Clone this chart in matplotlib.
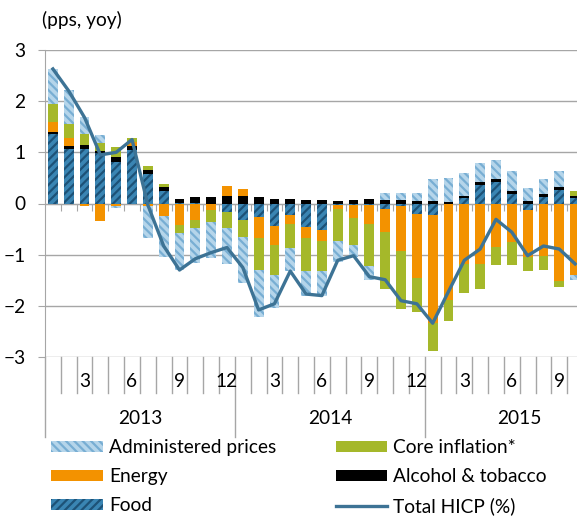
import numpy as np
import matplotlib
matplotlib.use('Agg')
import matplotlib.pyplot as plt
import matplotlib.transforms as mtransforms
from matplotlib.patches import Patch
from matplotlib.lines import Line2D

plt.rcParams['font.family'] = ['Lato', 'DejaVu Sans']
plt.rcParams['hatch.linewidth'] = 1.6

# Jan 2013 .. Oct 2015
years = ['2013', '2014', '2015']
month_labels = (['', '', '3', '', '', '6', '', '', '9', '', '', '12'] * 3)[:34]

# contributions (pps, yoy)
food = [1.36, 1.06, 1.06, 0.98, 0.82, 1.05, 0.58, 0.25, 0.01, 0.01, 0.00, -0.17,
        -0.32, -0.27, -0.44, -0.23, -0.46, -0.51, -0.02, -0.03, -0.03, -0.10, -0.05, -0.20,
        -0.23, -0.01, 0.11, 0.37, 0.42, 0.18, -0.12, 0.12, 0.27, 0.10]
alcohol = [0.04, 0.06, 0.08, 0.04, 0.08, 0.07, 0.08, 0.08, 0.07, 0.11, 0.12, 0.14,
           0.14, 0.12, 0.09, 0.08, 0.07, 0.07, 0.05, 0.07, 0.08, 0.07, 0.06, 0.04,
           0.04, 0.03, 0.03, 0.05, 0.05, 0.07, 0.05, 0.06, 0.06, 0.05]
energy = [0.20, 0.16, -0.05, -0.35, -0.05, 0.08, -0.05, -0.25, -0.42, -0.33, -0.13, 0.20,
          0.15, -0.40, -0.37, -0.17, -0.22, -0.23, -0.08, -0.26, -0.38, -0.45, -0.87, -1.25,
          -2.11, -1.87, -1.18, -1.19, -0.85, -0.75, -0.93, -1.03, -1.52, -1.39]
core = [0.35, 0.28, 0.22, 0.16, 0.20, 0.08, 0.07, 0.06, -0.16, -0.15, -0.23, -0.31,
        -0.33, -0.62, -0.58, -0.47, -0.63, -0.57, -0.64, -0.53, -0.81, -1.12, -1.15, -0.67,
        -0.55, -0.42, -0.57, -0.49, -0.35, -0.46, -0.27, -0.27, -0.12, 0.10]
admin = [0.68, 0.66, 0.34, 0.15, -0.03, -0.01, -0.62, -0.79, -0.72, -0.69, -0.71, -0.70,
         -0.91, -0.93, -0.65, -0.44, -0.49, -0.50, -0.41, -0.22, -0.27, 0.13, 0.15, 0.16,
         0.43, 0.47, 0.46, 0.37, 0.38, 0.39, 0.26, 0.29, 0.30, -0.10]
total = [2.63, 2.20, 1.68, 0.95, 1.00, 1.25, -0.03, -0.83, -1.30, -1.08, -0.96, -0.86,
         -1.25, -2.08, -1.96, -1.32, -1.77, -1.80, -1.11, -1.02, -1.43, -1.49, -1.90, -1.96,
         -2.34, -1.72, -1.11, -0.89, -0.31, -0.56, -1.02, -0.83, -0.89, -1.18]

W, H = 577, 517
FS = 13.8
fig = plt.figure(figsize=(W / 100, H / 100), dpi=100)
ax = fig.add_axes([45 / W, 1 - 357 / H, 538 / W, 307 / H])

x = np.arange(len(total))
series = [
    (food, '#3A85B3', '////', '#1D5277'),
    (alcohol, '#000000', None, '#000000'),
    (energy, '#F39200', None, '#F39200'),
    (core, '#A5B82A', None, '#A5B82A'),
    (admin, '#B5D5EA', '\\\\\\\\', '#78AED3'),
]
pos = np.zeros(len(x))
neg = np.zeros(len(x))
for vals, col, hatch, hcol in series:
    v = np.array(vals)
    bottom = np.where(v >= 0, pos, neg)
    ax.bar(x, v, 0.62, bottom=bottom, color=col, hatch=hatch, edgecolor=hcol,
           linewidth=0, zorder=3)
    pos += np.clip(v, 0, None)
    neg += np.clip(v, None, 0)

ax.plot(x, total, color='#3D7395', lw=2.4, zorder=5)

grey = '#A6A6A6'
ax.set_xlim(-0.5, 33.5)
ax.set_ylim(-3, 3)
ax.set_yticks(range(-3, 4))
ax.yaxis.grid(True, color=grey, lw=1.0, zorder=0)
ax.tick_params(axis='y', length=5, color=grey, pad=9, labelsize=FS)
for s in ['top', 'right']:
    ax.spines[s].set_visible(False)
ax.spines['left'].set_color(grey)
ax.spines['bottom'].set_position(('data', 0))
ax.spines['bottom'].set_color(grey)
ax.set_xticks(np.arange(0.5, 33, 1))
ax.set_xticklabels([])
ax.tick_params(axis='x', length=5, color=grey, direction='out')

# category axis below the plot
tr = mtransforms.blended_transform_factory(ax.transData, ax.transAxes)
for b in np.arange(0.5, 33, 1):
    if b in (11.5, 23.5):
        continue
    ax.plot([b, b], [0, -0.117], color=grey, lw=1.0, transform=tr, clip_on=False)
for b in (-0.5, 11.5, 23.5):
    ax.plot([b, b], [0, -0.26], color=grey, lw=1.0, transform=tr, clip_on=False)
for i, lab in enumerate(month_labels):
    if lab:
        ax.text(i, -0.081, lab, transform=tr, ha='center', va='center', fontsize=FS)
for j, yr in enumerate(years):
    ax.text(12 * j + 5.5, -0.199, yr, transform=tr, ha='center', va='center', fontsize=FS)

fig.text(42 / W, 1 - 20 / H, '(pps, yoy)', ha='left', va='center', fontsize=FS)

handles = [
    Patch(facecolor='#B5D5EA', edgecolor='#78AED3', hatch='\\\\\\\\', linewidth=0),
    Patch(facecolor='#F39200', linewidth=0),
    Patch(facecolor='#3A85B3', edgecolor='#1D5277', hatch='////', linewidth=0),
    Patch(facecolor='#A5B82A', linewidth=0),
    Patch(facecolor='#000000', linewidth=0),
    Line2D([], [], color='#3D7395', lw=2.4),
]
labels = ['Administered prices', 'Energy', 'Food',
          'Core inflation*', 'Alcohol & tobacco', 'Total HICP (%)']
fig.legend(handles, labels, ncol=2, loc='upper left', frameon=False,
           bbox_to_anchor=(36 / W, 1 - 424 / H), fontsize=FS,
           handlelength=2.7, handleheight=0.55, handletextpad=0.3,
           columnspacing=3.1, labelspacing=0.62, borderpad=0.3)

fig.savefig('out.png', dpi=100)
